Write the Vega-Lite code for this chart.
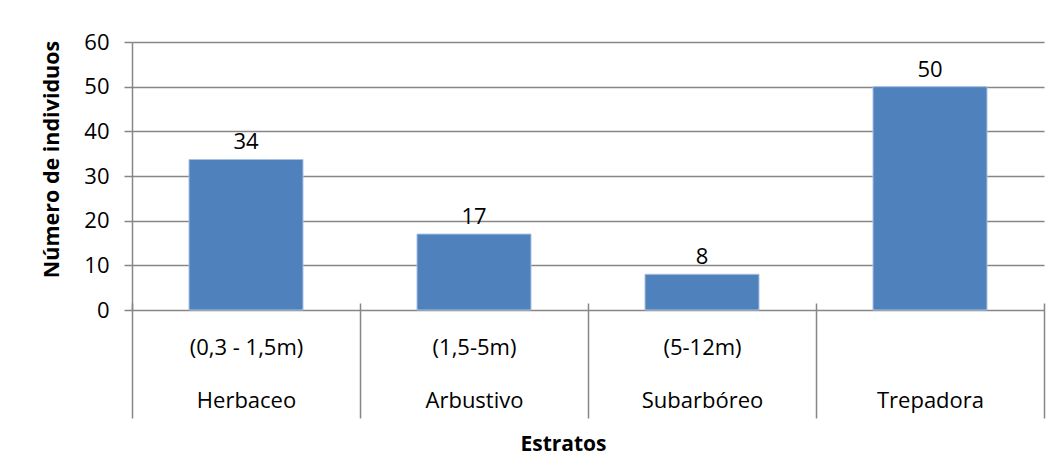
{
  "$schema": "https://vega.github.io/schema/vega-lite/v6.json",
  "width": 912,
  "height": 268,
  "autosize": {"type": "none"},
  "padding": {"left": 132, "top": 42, "right": 15, "bottom": 159},
  "background": "white",
  "config": {
    "font": "Open Sans",
    "view": {"stroke": null},
    "axis": {"labelColor": "#000000", "titleColor": "#000000", "domainColor": "#868686", "tickColor": "#868686", "gridColor": "#868686", "domainWidth": 1.5, "tickWidth": 1.5, "gridWidth": 1.5}
  },
  "data": {
    "values": [
      {"clase": "(0,3 - 1,5m)|Herbaceo", "estrato": "Herbaceo", "altura": "(0,3 - 1,5m)", "individuos": 33.7},
      {"clase": "(1,5-5m)|Arbustivo", "estrato": "Arbustivo", "altura": "(1,5-5m)", "individuos": 17},
      {"clase": "(5-12m)|Subarbóreo", "estrato": "Subarbóreo", "altura": "(5-12m)", "individuos": 8},
      {"clase": "|Trepadora", "estrato": "Trepadora", "altura": "", "individuos": 50}
    ]
  },
  "encoding": {
    "x": {
      "field": "clase",
      "type": "nominal",
      "sort": null,
      "scale": {"paddingInner": 0, "paddingOuter": 0},
      "axis": {
        "title": "Estratos",
        "titleFontSize": 21,
        "titleFontWeight": "bold",
        "titleX": 431,
        "titleY": 141,
        "titleBaseline": "middle",
        "labelExpr": "datum.value ? split(datum.value, '|') : ''",
        "labelAngle": 0,
        "labelFontSize": 22,
        "labelLineHeight": 53,
        "labelBaseline": "top",
        "labelPadding": -81,
        "offset": -7,
        "domain": false,
        "tickBand": "extent",
        "tickSize": 115,
        "grid": false
      }
    },
    "y": {
      "field": "individuos",
      "type": "quantitative",
      "scale": {"domain": [0, 60], "nice": false},
      "axis": {
        "title": "Número de individuos",
        "titleFontSize": 21.5,
        "titleFontWeight": "bold",
        "titleX": -80,
        "titleY": 117,
        "titleBaseline": "middle",
        "values": [0, 10, 20, 30, 40, 50, 60],
        "labelFontSize": 22,
        "labelPadding": 15,
        "tickSize": 8,
        "grid": true
      }
    }
  },
  "layer": [
    {"mark": {"type": "bar", "width": {"band": 0.5}, "color": "#4F81BD", "stroke": "#A9C1E0", "strokeWidth": 1}},
    {
      "mark": {"type": "text", "baseline": "bottom", "dy": -5, "fontSize": 22, "color": "#000000"},
      "encoding": {"text": {"field": "individuos", "type": "quantitative", "format": ".0f"}}
    }
  ]
}
